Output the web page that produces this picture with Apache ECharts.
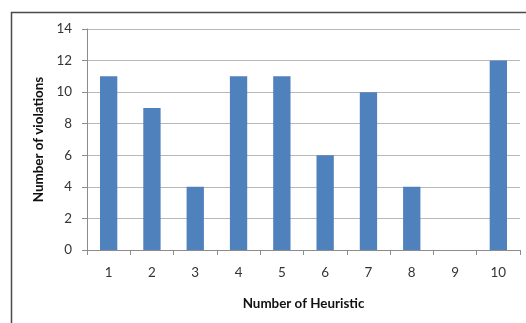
<!DOCTYPE html>
<html>
<head>
<meta charset="utf-8">
<script src="https://cdn.jsdelivr.net/npm/echarts@6/dist/echarts.min.js"></script>
<style>
  html, body { margin: 0; padding: 0; background: #fff; }
  #chart { width: 526px; height: 323px; }
</style>
</head>
<body>
<div id="chart"></div>
<script>
// 数据
const heuristics = ['1', '2', '3', '4', '5', '6', '7', '8', '9', '10'];
const violations = [11, 9, 4, 11, 11, 6, 10, 4, 0, 12];

const chart = echarts.init(document.getElementById('chart'));
const font = 'Lato, "Open Sans", sans-serif';

const option = {
    animation: false,
    graphic: [{
        // 外框（右侧和底部被裁掉）
        type: 'rect',
        shape: { x: 11.5, y: 12.5, width: 600, height: 400 },
        style: { fill: 'none', stroke: '#4a4a4a', lineWidth: 1.5 }
    }],
    grid: { left: 87, right: 6, top: 29, bottom: 73 },
    xAxis: {
        type: 'category',
        data: heuristics,
        name: 'Number of Heuristic',
        nameLocation: 'middle',
        nameGap: 47,
        nameTextStyle: { fontFamily: font, fontSize: 13.4, fontWeight: 'bold', color: '#111' },
        axisLine: { lineStyle: { color: '#8c8c8c' } },
        axisTick: { show: true, length: 5, lineStyle: { color: '#8c8c8c' } },
        axisLabel: { fontFamily: font, fontSize: 13.4, color: '#333', margin: 16 }
    },
    yAxis: {
        type: 'value',
        min: 0,
        max: 14,
        interval: 2,
        name: 'Number of violations',
        nameLocation: 'middle',
        nameGap: 40,
        nameTextStyle: { fontFamily: font, fontSize: 13.4, fontWeight: 'bold', color: '#111' },
        axisLine: { show: true, lineStyle: { color: '#8c8c8c' } },
        axisTick: { show: true, length: 5, lineStyle: { color: '#8c8c8c' } },
        axisLabel: { fontFamily: font, fontSize: 13.4, color: '#333', margin: 15 },
        splitLine: { lineStyle: { color: '#b8b8b8' } }
    },
    series: [{
        type: 'bar',
        data: violations,
        barWidth: '40%',
        itemStyle: { color: '#4f81bd' }
    }]
};

chart.setOption(option);
</script>
</body>
</html>
